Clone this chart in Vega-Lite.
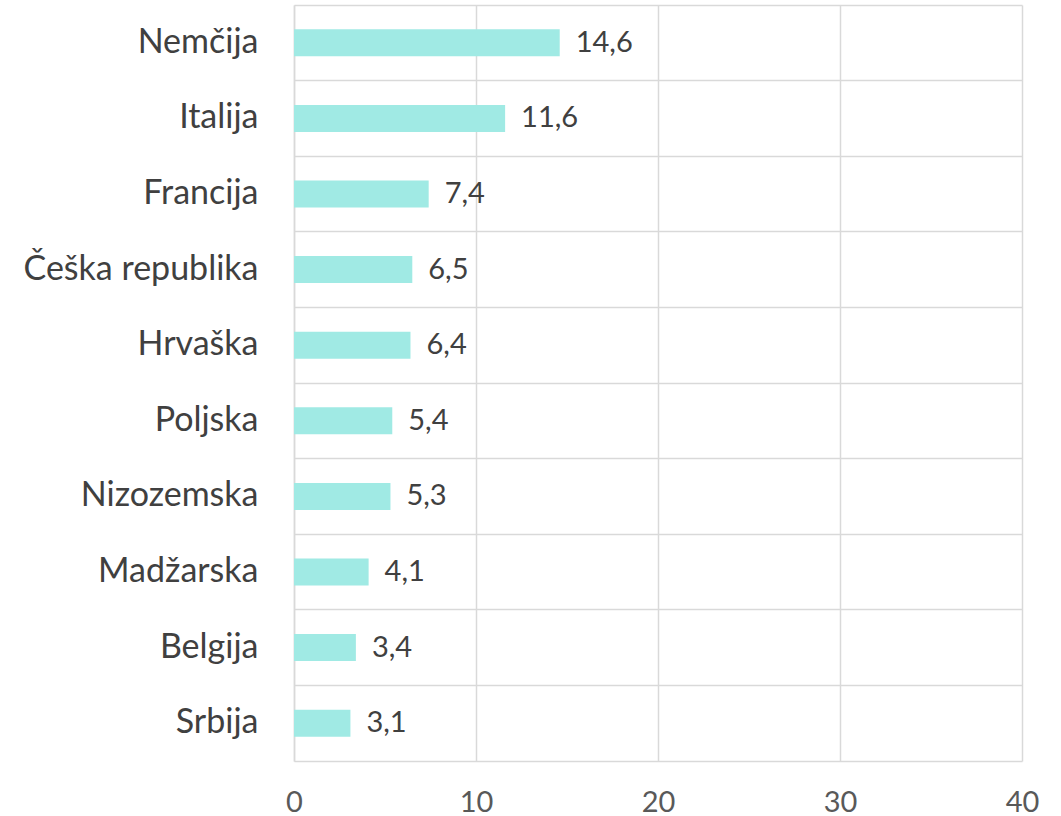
{
  "$schema": "https://vega.github.io/schema/vega-lite/v6.json",
  "autosize": "none",
  "width": 728,
  "height": 756,
  "padding": {"left": 294, "top": 5, "right": 39, "bottom": 55},
  "background": "white",
  "config": {
    "locale": {"number": {"decimal": ",", "thousands": ".", "grouping": [3], "currency": ["", " €"]}},
    "view": {"stroke": null},
    "font": "Lato"
  },
  "data": {"values": [
    {"country": "Nemčija", "value": 14.6},
    {"country": "Italija", "value": 11.6},
    {"country": "Francija", "value": 7.4},
    {"country": "Češka republika", "value": 6.5},
    {"country": "Hrvaška", "value": 6.4},
    {"country": "Poljska", "value": 5.4},
    {"country": "Nizozemska", "value": 5.3},
    {"country": "Madžarska", "value": 4.1},
    {"country": "Belgija", "value": 3.4},
    {"country": "Srbija", "value": 3.1}
  ]},
  "encoding": {
    "y": {
      "field": "country", "type": "nominal", "sort": null,
      "scale": {"paddingInner": 0, "paddingOuter": 0},
      "axis": {
        "title": null, "ticks": false, "domain": true, "domainColor": "#D9D9D9", "domainWidth": 1.5,
        "grid": true, "gridColor": "#D9D9D9", "gridWidth": 1.5, "bandPosition": 0,
        "labelFontSize": 34, "labelColor": "#404040", "labelPadding": 36, "labelFont": "Lato",
        "labelLimit": 0
      }
    },
    "x": {
      "field": "value", "type": "quantitative",
      "scale": {"domain": [0, 40]},
      "axis": {
        "title": null, "values": [0, 10, 20, 30, 40], "ticks": false, "domain": true,
        "domainColor": "#D9D9D9", "domainWidth": 1.5,
        "grid": true, "gridColor": "#D9D9D9", "gridWidth": 1.5,
        "labelFontSize": 29, "labelColor": "#595959", "labelPadding": 27, "labelFont": "Lato",
        "labelFlush": false, "format": "d"
      }
    }
  },
  "layer": [
    {"mark": {"type": "bar", "color": "#A0EAE4", "size": 27}},
    {"mark": {"type": "text", "align": "left", "baseline": "middle", "dx": 16, "fontSize": 29, "color": "#404040", "font": "Lato"},
     "encoding": {"text": {"field": "value", "type": "quantitative", "format": ".1f"}}}
  ]
}
